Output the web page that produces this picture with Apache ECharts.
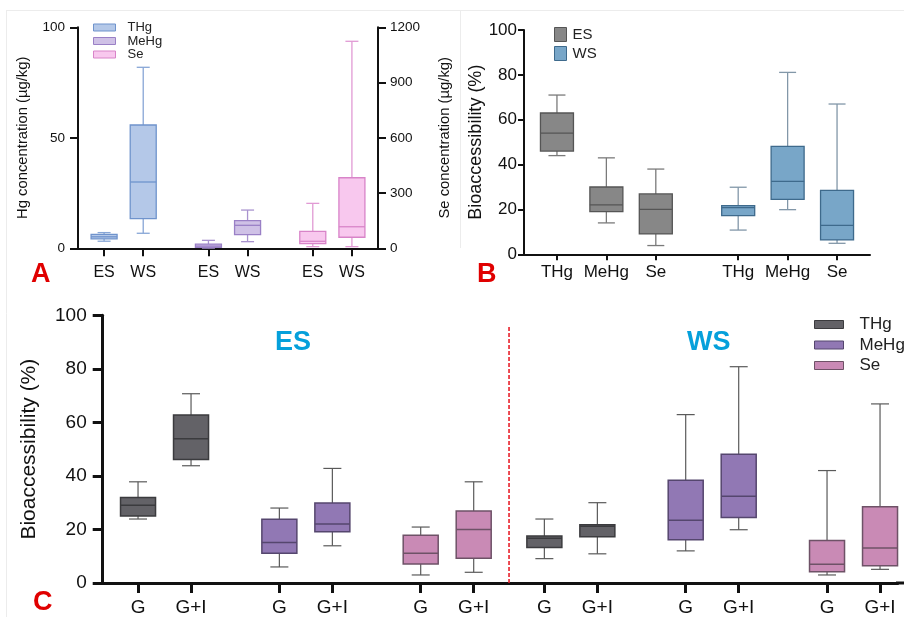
<!DOCTYPE html>
<html><head><meta charset="utf-8">
<script src="https://cdn.jsdelivr.net/npm/echarts@6/dist/echarts.min.js"></script>
<style>html,body{margin:0;padding:0;background:#fff}#c{width:904px;height:617px}</style>
</head><body><div id="c"></div>
<script>
// ================= DATA (min, Q1, median, Q3, max) =================
// Panel A – concentrations (µg/kg); Hg on left axis, Se on right axis
const aSeasons = ['ES', 'WS'];
const aTHg  = [[3.2, 4.3, 5.2, 6.3, 7.1], [6.8, 13.4, 30.0, 55.8, 81.9]];
const aMeHg = [[0.1, 0.45, 1.0, 1.9, 3.6], [3.0, 6.2, 10.4, 12.5, 17.3]];
const aSe   = [[9, 25, 38, 92, 244], [9, 60, 117, 383, 1124]];

// Panel B – bioaccessibility (%) per season
const bGroups = ['THg', 'MeHg', 'Se'];
const bES = [[44, 46, 54, 63, 71], [14, 19, 22, 30, 43], [3.9, 9.1, 20, 26.9, 38]];
const bWS = [[10.8, 17.2, 20.8, 21.7, 29.9], [19.9, 24.5, 32.5, 48.1, 81.1], [4.9, 6.4, 12.9, 28.5, 67]];

// Panel C – bioaccessibility (%) G vs G+I, order: ES-G, ES-G+I, WS-G, WS-G+I
const cTreat = ['G', 'G+I'];
const cTHg  = [[23.9, 25, 29, 31.9, 37.8], [43.8, 46.1, 53.9, 62.8, 70.7], [9.1, 13.3, 16.7, 17.6, 23.9], [10.9, 17.3, 21.2, 21.8, 30]];
const cMeHg = [[6, 11.1, 15.1, 23.8, 28], [13.9, 19.1, 22, 29.9, 42.8], [12, 16.2, 23.4, 38.4, 62.9], [19.9, 24.5, 32.4, 48.1, 80.8]];
const cSe   = [[3, 7.1, 11.1, 17.8, 20.9], [4, 9.2, 20, 26.9, 37.8], [3, 4.2, 7, 15.9, 42], [5.1, 6.4, 13.1, 28.5, 66.9]];
const cTitles = ['ES', 'WS'];
const cDividerTop = 96;

// ================= LAYOUT (slot positions on category axes) =================
const FONT = 'Arial, "Liberation Sans", Helvetica, sans-serif';
const aN = 24, bN = 22, cN = 46;
const aSlot = (g, s) => 2 + 8 * g + 3 * s;
const bSlot = (s, g) => 2 + 11 * s + 3 * g;
const cSlot = (s, g, t) => 2 + 23 * s + 8 * g + 3 * t;
const cDividerSlot = 23;

function cats(n, entries) { const a = new Array(n).fill(''); entries.forEach(([i, l]) => a[i] = l); return a; }
const aCats = cats(aN, [0,1,2].flatMap(g => aSeasons.map((l, s) => [aSlot(g, s), l])));
const bCats = cats(bN, [0,1].flatMap(s => bGroups.map((l, g) => [bSlot(s, g), l])));
const cCats = cats(cN, [0,1].flatMap(s => [0,1,2].flatMap(g => cTreat.map((l, t) => [cSlot(s, g, t), l]))));

const aData = (arr, g) => arr.map((v, s) => [aSlot(g, s), ...v]);
const bData = (arr, s) => arr.map((v, g) => [bSlot(s, g), ...v]);
const cData = (arr, g) => arr.map((v, k) => [cSlot(Math.floor(k / 2), g, k % 2), ...v]);

function boxRenderer(st) {
  return function (params, api) {
    const x = api.value(0);
    const p = [1, 2, 3, 4, 5].map(d => api.coord([x, api.value(d)]));
    const cx = p[0][0], hb = st.box / 2, hc = st.cap / 2;
    const ls = { stroke: st.whisker, lineWidth: st.wLine };
    return { type: 'group', children: [
      { type: 'line', shape: { x1: cx, y1: p[4][1], x2: cx, y2: p[3][1] }, style: ls },
      { type: 'line', shape: { x1: cx, y1: p[1][1], x2: cx, y2: p[0][1] }, style: ls },
      { type: 'line', shape: { x1: cx - hc, y1: p[4][1], x2: cx + hc, y2: p[4][1] }, style: ls },
      { type: 'line', shape: { x1: cx - hc, y1: p[0][1], x2: cx + hc, y2: p[0][1] }, style: ls },
      { type: 'rect', shape: { x: cx - hb, y: p[3][1], width: st.box, height: p[1][1] - p[3][1] },
        style: { fill: st.fill, stroke: st.stroke, lineWidth: st.bLine } },
      { type: 'line', shape: { x1: cx - hb, y1: p[2][1], x2: cx + hb, y2: p[2][1] }, style: { stroke: st.stroke, lineWidth: st.bLine } }
    ]};
  };
}
function boxSeries(name, xi, yi, data, st) {
  return { type: 'custom', name, xAxisIndex: xi, yAxisIndex: yi, data,
    encode: { x: 0, y: [1, 2, 3, 4, 5] }, renderItem: boxRenderer(st), itemStyle: { color: st.fill }, silent: true };
}

const stA = {
  THg:  { box: 26, cap: 13, fill: '#b4c8e8', stroke: '#6f93cc', whisker: '#87a6d6', wLine: 1.3, bLine: 1.3 },
  MeHg: { box: 26, cap: 13, fill: '#cfc1e6', stroke: '#9a80c6', whisker: '#a993cf', wLine: 1.3, bLine: 1.3 },
  Se:   { box: 26, cap: 13, fill: '#f8c8ee', stroke: '#d884c8', whisker: '#e19ad4', wLine: 1.3, bLine: 1.3 }
};
const stB = {
  ES: { box: 33, cap: 17, fill: '#878787', stroke: '#555555', whisker: '#7a7a7a', wLine: 1.3, bLine: 1.3 },
  WS: { box: 33, cap: 17, fill: '#78a6c8', stroke: '#3e6a8c', whisker: '#8297a8', wLine: 1.3, bLine: 1.3 }
};
const stC = {
  THg:  { box: 35, cap: 18, fill: '#636267', stroke: '#3b3b3e', whisker: '#5a5a5a', wLine: 1.2, bLine: 1.5 },
  MeHg: { box: 35, cap: 18, fill: '#9178b4', stroke: '#55466e', whisker: '#5a5a5a', wLine: 1.2, bLine: 1.5 },
  Se:   { box: 35, cap: 18, fill: '#c98ab5', stroke: '#6e5267', whisker: '#5a5a5a', wLine: 1.2, bLine: 1.5 }
};

const tickShow = (i, v) => v !== '';
function xAxisCfg(gi, data, lw, tl, fs, margin) {
  return { type: 'category', gridIndex: gi, data, boundaryGap: false,
    axisLine: { lineStyle: { color: '#111', width: lw } },
    axisTick: { show: true, interval: tickShow, length: tl, lineStyle: { color: '#111', width: lw } },
    axisLabel: { interval: 0, color: '#111', fontSize: fs, fontFamily: FONT, margin },
    splitLine: { show: false } };
}
function yAxisCfg(gi, min, max, interval, lw, tl, fs, margin, name, nfs, ngap, pos) {
  return { type: 'value', gridIndex: gi, min, max, interval, position: pos || 'left',
    name, nameLocation: 'middle', nameRotate: 90, nameGap: ngap,
    nameTextStyle: { fontSize: nfs, fontFamily: FONT, color: '#111' },
    axisLine: { show: true, lineStyle: { color: '#111', width: lw } },
    axisTick: { show: true, length: tl, lineStyle: { color: '#111', width: lw } },
    axisLabel: { color: '#111', fontSize: fs, fontFamily: FONT, margin, formatter: v => String(v) },
    splitLine: { show: false } };
}

const legItem = (name, st) => ({ name, icon: 'rect', itemStyle: { color: st.fill, borderColor: st.stroke, borderWidth: 1 } });

const option = {
  backgroundColor: '#fff',
  animation: false,
  grid: [
    { left: 78, top: 27.3, width: 300, height: 221, containLabel: false },
    { left: 524, top: 30, width: 346, height: 224.3, containLabel: false },
    { left: 102.7, top: 315.3, width: 795, height: 267.7, containLabel: false }
  ],
  xAxis: [
    xAxisCfg(0, aCats, 2, 8, 16, 16),
    xAxisCfg(1, bCats, 2, 6, 17, 10),
    xAxisCfg(2, cCats, 3, 10, 19, 15)
  ],
  yAxis: [
    yAxisCfg(0, 0, 100, 50, 2, 8, 13.5, 13, 'Hg concentration (µg/kg)', 14.8, 48),
    yAxisCfg(0, 0, 1200, 300, 2, 8, 13.5, 12, 'Se concentration (µg/kg)', 14.8, 59, 'right'),
    yAxisCfg(1, 0, 100, 20, 2, 6, 17, 7, 'Bioaccessibility (%)', 18, 39),
    yAxisCfg(2, 0, 100, 20, 3, 10, 19, 16, 'Bioaccessibility (%)', 21, 63)
  ],
  legend: [
    { left: 88, top: 16, orient: 'vertical', itemWidth: 22, itemGap: 0.5, itemHeight: 7, selectedMode: false,
      textStyle: { fontSize: 13, fontFamily: FONT, color: '#222', padding: [0, 0, 0, 7] },
      data: [legItem('THg', stA.THg), legItem('MeHg', stA.MeHg), legItem('Se', stA.Se)] },
    { left: 549, top: 22, orient: 'vertical', itemWidth: 12, itemHeight: 14, itemGap: 4, selectedMode: false,
      textStyle: { fontSize: 15, fontFamily: FONT, color: '#222', padding: [0, 0, 0, 1] },
      data: [legItem('ES', stB.ES), legItem('WS', stB.WS)] },
    { left: 809, top: 311, orient: 'vertical', itemWidth: 29, itemHeight: 8, itemGap: 3.5, selectedMode: false,
      textStyle: { fontSize: 17, fontFamily: FONT, color: '#222', padding: [0, 0, 0, 11] },
      data: [legItem('THg', stC.THg), legItem('MeHg', stC.MeHg), legItem('Se', stC.Se)] }
  ],
  graphic: [
    { type: 'line', shape: { x1: 6, y1: 10.5, x2: 904, y2: 10.5 }, style: { stroke: '#ececec', lineWidth: 1 }, silent: true },
    { type: 'line', shape: { x1: 6.5, y1: 10, x2: 6.5, y2: 617 }, style: { stroke: '#ececec', lineWidth: 1 }, silent: true },
    { type: 'line', shape: { x1: 460.5, y1: 10, x2: 460.5, y2: 248 }, style: { stroke: '#ececec', lineWidth: 1 }, silent: true },
    { type: 'line', shape: { x1: 896, y1: 583, x2: 904, y2: 583 }, style: { stroke: '#111', lineWidth: 3 }, silent: true },
    { type: 'text', left: 31, top: 261, style: { text: 'A', fill: '#e00000', font: 'bold 27px ' + FONT } },
    { type: 'text', left: 477, top: 261, style: { text: 'B', fill: '#e00000', font: 'bold 27px ' + FONT } },
    { type: 'text', left: 33, top: 589, style: { text: 'C', fill: '#e00000', font: 'bold 27px ' + FONT } },
    { type: 'text', left: 275, top: 329, style: { text: cTitles[0], fill: '#05a0db', font: 'bold 27px ' + FONT } },
    { type: 'text', left: 687, top: 329, style: { text: cTitles[1], fill: '#05a0db', font: 'bold 27px ' + FONT } }
  ],
  series: [
    boxSeries('THg', 0, 0, aData(aTHg, 0), stA.THg),
    boxSeries('MeHg', 0, 0, aData(aMeHg, 1), stA.MeHg),
    boxSeries('Se', 0, 1, aData(aSe, 2), stA.Se),
    boxSeries('ES', 1, 2, bData(bES, 0), stB.ES),
    boxSeries('WS', 1, 2, bData(bWS, 1), stB.WS),
    boxSeries('THg', 2, 3, cData(cTHg, 0), stC.THg),
    boxSeries('MeHg', 2, 3, cData(cMeHg, 1), stC.MeHg),
    boxSeries('Se', 2, 3, cData(cSe, 2), stC.Se),
    { type: 'line', xAxisIndex: 2, yAxisIndex: 3, silent: true, symbol: 'none',
      data: [[cDividerSlot, 0], [cDividerSlot, cDividerTop]],
      lineStyle: { color: '#e8202a', width: 1.6, type: [4, 2] } }
  ]
};
const chart = echarts.init(document.getElementById('c'), null, { renderer: 'canvas' });
chart.setOption(option);
</script></body></html>
